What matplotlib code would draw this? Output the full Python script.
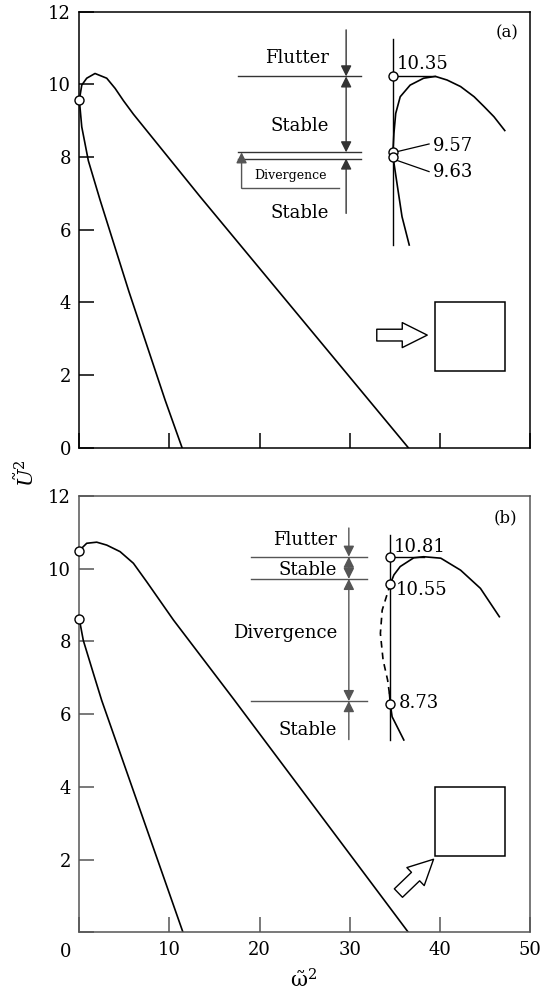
import matplotlib.pyplot as plt
from matplotlib.patches import Rectangle

plt.rcParams['font.family'] = 'DejaVu Serif'
plt.rcParams['mathtext.fontset'] = 'dejavuserif'

# ---- panel (a) ----
a_up_x = [0.0, 0.27, 0.82, 1.74, 3.04, 3.97, 4.9, 6.0, 13.4, 36.5]
a_up_y = [9.57, 9.98, 10.17, 10.30, 10.17, 9.89, 9.55, 9.18, 6.91, 0.0]
a_lo_x = [0.0, 0.27, 1.0, 2.3, 5.5, 9.52, 11.4]
a_lo_y = [9.57, 8.83, 7.9, 6.82, 4.3, 1.31, 0.0]

# zoomed sketch (a)
a_in_x = [34.8, 34.8, 34.9, 35.1, 35.6, 36.7, 38.2, 39.5, 40.8, 42.3, 43.8, 44.9, 46.0, 47.2]
a_in_y = [8.01, 8.19, 8.65, 9.20, 9.66, 9.98, 10.17, 10.22, 10.12, 9.94, 9.66, 9.39, 9.11, 8.73]
a_br_x = [34.8, 35.3, 35.8, 36.6]
a_br_y = [8.01, 7.18, 6.36, 5.58]
a_pts = [10.22, 8.15, 8.01]
a_levels = [10.22, 8.13, 7.96]

# ---- panel (b) ----
b_up_x = [0.0, 0.82, 1.93, 3.04, 4.52, 6.0, 7.48, 10.44, 17.1, 36.5]
b_up_y = [10.50, 10.70, 10.73, 10.65, 10.47, 10.15, 9.64, 8.59, 6.42, 0.0]
b_lo_x = [0.0, 0.44, 1.56, 2.48, 11.5]
b_lo_y = [8.61, 8.03, 7.12, 6.38, 0.0]

b_in_x = [34.5, 34.9, 35.6, 37.1, 38.2, 40.1, 42.3, 44.5, 46.6]
b_in_y = [9.58, 9.83, 10.06, 10.30, 10.33, 10.29, 9.96, 9.46, 8.68]
b_dash_x = [34.5, 33.6, 33.4, 33.7, 34.2, 34.4]
b_dash_y = [9.58, 8.86, 8.22, 7.49, 6.94, 6.57]
b_br_x = [34.4, 34.5, 34.7, 36.0]
b_br_y = [6.57, 6.28, 5.93, 5.29]
b_pts = [10.33, 9.58, 6.28]
b_levels = [10.33, 9.72, 6.36]

FS = 13


def arrow(ax, x0, y0, x1, y1, style, color):
    ax.annotate('', xy=(x1, y1), xytext=(x0, y0),
                arrowprops=dict(arrowstyle=style + ',head_length=0.32,head_width=0.16',
                                color=color, lw=1.0, shrinkA=0, shrinkB=0,
                                mutation_scale=20))


def block_arrow(ax, tail, tip):
    ax.annotate('', xy=tip, xytext=tail,
                arrowprops=dict(arrowstyle='simple,head_length=1.0,head_width=1.0,tail_width=0.47',
                                fc='white', ec='black', lw=1.0, shrinkA=0, shrinkB=0,
                                mutation_scale=18))


def setup(ax, color):
    ax.set_xlim(0, 50)
    ax.set_ylim(0, 12)
    for s in ax.spines.values():
        s.set_linewidth(1.1)
        s.set_color(color)
    ax.tick_params(direction='in', length=10.8, width=1.1, top=False, right=False,
                   labelsize=FS, pad=6, color=color)
    ax.set_xticks([0, 10, 20, 30, 40, 50])
    ax.set_yticks([0, 2, 4, 6, 8, 10, 12])


fig = plt.figure(figsize=(5.4, 9.93), dpi=100)
ax1 = fig.add_axes([0.1469, 0.5491, 0.8346, 0.4391])
ax2 = fig.add_axes([0.1469, 0.0611, 0.8346, 0.4394])

mk = dict(marker='o', ms=6.5, mfc='white', mec='black', mew=1.0, ls='none',
          clip_on=False, zorder=5)

# ---------- (a) ----------
setup(ax1, 'black')
ax1.set_xticklabels([])
ax1.plot(a_up_x, a_up_y, color='black', lw=1.2)
ax1.plot(a_lo_x, a_lo_y, color='black', lw=1.2)
ax1.plot([0], [a_up_y[0]], **mk)

ax1.plot([34.8, 34.8], [5.58, 11.24], color='black', lw=1.0)
ax1.plot(a_in_x, a_in_y, color='black', lw=1.2)
ax1.plot(a_br_x, a_br_y, color='black', lw=1.2)
ax1.plot([34.8, 39.5], [a_pts[0], a_pts[0]], color='black', lw=1.0)
ax1.plot([34.8] * 3, a_pts, **mk)
ax1.text(35.2, 10.56, '10.35', fontsize=FS, va='center', ha='left')
ax1.plot([35.1, 38.8], [8.14, 8.36], color='black', lw=0.9)
ax1.text(39.2, 8.31, '9.57', fontsize=FS, va='center', ha='left')
ax1.plot([35.1, 38.8], [7.92, 7.60], color='black', lw=0.9)
ax1.text(39.2, 7.58, '9.63', fontsize=FS, va='center', ha='left')

for lv in a_levels:
    ax1.plot([17.6, 31.2], [lv, lv], color='#333333', lw=1.0)
ac = '#333333'
arrow(ax1, 29.6, 11.50, 29.6, a_levels[0], '-|>', ac)
arrow(ax1, 29.6, a_levels[1], 29.6, a_levels[0], '<|-|>', ac)
arrow(ax1, 29.6, 6.45, 29.6, a_levels[2], '-|>', ac)
arrow(ax1, 18.0, 7.14, 18.0, a_levels[1], '-|>', '#555555')
ax1.plot([18.0, 28.8], [7.14, 7.14], color='#555555', lw=1.0)
ax1.text(23.4, 7.50, 'Divergence', fontsize=9, ha='center', va='center')
ax1.text(27.7, 10.72, 'Flutter', fontsize=FS, ha='right', va='center')
ax1.text(27.7, 8.85, 'Stable', fontsize=FS, ha='right', va='center')
ax1.text(27.7, 6.45, 'Stable', fontsize=FS, ha='right', va='center')
ax1.text(48.7, 11.41, '(a)', fontsize=FS - 1, ha='right', va='center')

ax1.add_patch(Rectangle((39.5, 2.12), 7.7, 1.9, fill=False, ec='black', lw=1.1))
block_arrow(ax1, (33.0, 3.10), (38.6, 3.10))

# ---------- (b) ----------
gc = '#555555'
setup(ax2, gc)
ax2.set_xticklabels(['', '10', '20', '30', '40', '50'])
ax2.set_yticklabels(['', '2', '4', '6', '8', '10', '12'])
ax2.text(-1.5, -0.045, '0', fontsize=FS, ha='center', va='center',
         transform=ax2.get_xaxis_transform())
ax2.plot(b_up_x, b_up_y, color='black', lw=1.2)
ax2.plot(b_lo_x, b_lo_y, color='black', lw=1.2)
ax2.plot([0, 0], [b_up_y[0], b_lo_y[0]], **mk)

ax2.plot([34.5, 34.5], [5.29, 10.93], color='black', lw=1.0)
ax2.plot(b_in_x, b_in_y, color='black', lw=1.2)
ax2.plot(b_dash_x, b_dash_y, color='black', lw=1.2, ls=(0, (4, 3)))
ax2.plot(b_br_x, b_br_y, color='black', lw=1.2)
ax2.plot([34.5, 38.2], [b_pts[0], b_pts[0]], color='black', lw=1.0)
ax2.plot([34.5] * 3, b_pts, **mk)
ax2.text(34.9, 10.61, '10.81', fontsize=FS, va='center', ha='left')
ax2.text(35.1, 9.41, '10.55', fontsize=FS, va='center', ha='left')
ax2.text(35.4, 6.30, '8.73', fontsize=FS, va='center', ha='left')

for lv in b_levels:
    ax2.plot([19.0, 31.9], [lv, lv], color=gc, lw=1.0)
arrow(ax2, 29.9, 11.12, 29.9, b_levels[0], '-|>', gc)
arrow(ax2, 29.9, b_levels[1], 29.9, b_levels[0], '<|-|>', gc)
arrow(ax2, 29.9, b_levels[2], 29.9, b_levels[1], '<|-|>', gc)
arrow(ax2, 29.9, 5.3, 29.9, b_levels[2], '-|>', gc)
ax2.text(28.6, 10.79, 'Flutter', fontsize=FS, ha='right', va='center')
ax2.text(28.6, 9.96, 'Stable', fontsize=FS, ha='right', va='center')
ax2.text(28.6, 8.23, 'Divergence', fontsize=FS, ha='right', va='center')
ax2.text(28.6, 5.56, 'Stable', fontsize=FS, ha='right', va='center')
ax2.text(48.6, 11.39, '(b)', fontsize=FS - 1, ha='right', va='center')

ax2.add_patch(Rectangle((39.5, 2.10), 7.7, 1.9, fill=False, ec='black', lw=1.1))
block_arrow(ax2, (35.4, 1.08), (39.3, 2.01))

fig.text(26 / 540, 1 - 473 / 993, r'$\tilde{U}^2$', rotation=90, fontsize=15,
         ha='center', va='center')
fig.text(304 / 540, 1 - 980 / 993, r'$\tilde{\mathrm{\omega}}^2$', fontsize=15,
         ha='center', va='center')

fig.savefig('out.png', dpi=100)
